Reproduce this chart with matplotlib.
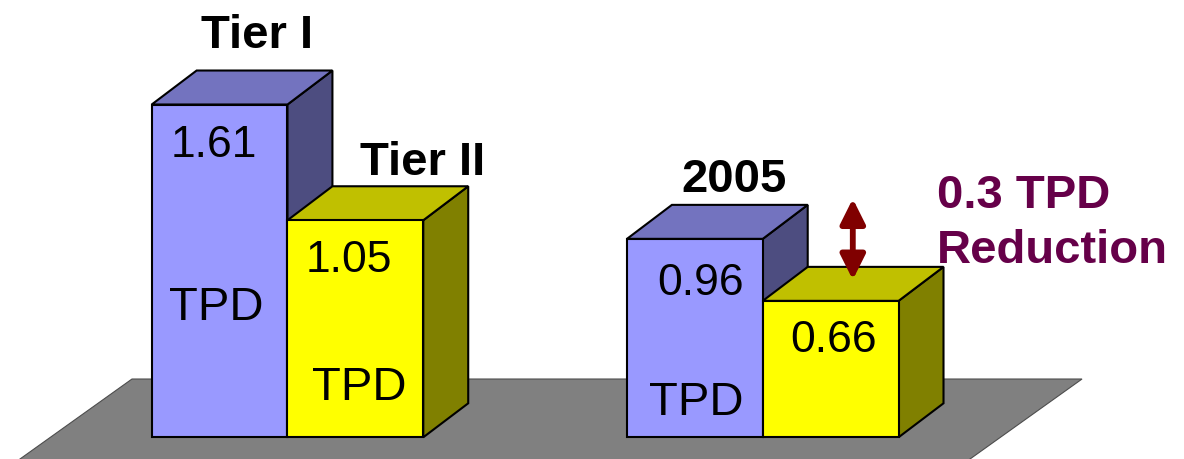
import numpy as np
import matplotlib.pyplot as plt
from matplotlib.patches import Polygon, FancyArrowPatch

# values in TPD: Tier I, Tier II, 2005 (blue), 2005 reduced (yellow)
values = [1.61, 1.05, 0.96, 0.66]
value_labels = ['1.61', '1.05', '0.96', '0.66']
bar_titles = ['Tier I', 'Tier II', '2005', '']
unit_labels = ['TPD', 'TPD', 'TPD', '']
note_lines = ['0.3 TPD', 'Reduction']

plt.rcParams['font.family'] = ['Liberation Sans', 'DejaVu Sans']

front = ['#9999FF', '#FFFF00', '#9999FF', '#FFFF00']
top = ['#7373BF', '#C0C000', '#7373BF', '#C0C000']
side = ['#4D4D80', '#808000', '#4D4D80', '#808000']

# 1 x-unit = one bar width, 1 y-unit = 1 TPD
x0 = 1.117
lefts = [x0, x0 + 1, x0 + 3.5, x0 + 4.5]
dx, dy = 0.331, 0.1645

fig = plt.figure(figsize=(11.84, 4.6), dpi=100)
ax = fig.add_axes([0, 0, 1, 1])
ax.set_xlim(0, 8.719)
ax.set_ylim(-0.105, 2.1205)
ax.axis('off')

# floor
ft, fb = 0.282, -0.6
slope = 2.131
floor = Polygon([(0.972, ft), (7.968, ft), (7.968 - slope * (ft - fb), fb),
                 (0.972 - slope * (ft - fb), fb)],
                facecolor='#808080', edgecolor='#4d4d4d', lw=0.8, zorder=1)
ax.add_patch(floor)

lw = 1.5
for i, (x, h) in enumerate(zip(lefts, values)):
    sd = Polygon([(x + 1, 0), (x + 1 + dx, dy), (x + 1 + dx, h + dy), (x + 1, h)],
                 facecolor=side[i], edgecolor='black', lw=lw, zorder=2 + i)
    tp = Polygon([(x, h), (x + 1, h), (x + 1 + dx, h + dy), (x + dx, h + dy)],
                 facecolor=top[i], edgecolor='black', lw=lw, zorder=2 + i)
    fr = Polygon([(x, 0), (x + 1, 0), (x + 1, h), (x, h)],
                 facecolor=front[i], edgecolor='black', lw=lw, zorder=2 + i)
    for p in (sd, tp, fr):
        ax.add_patch(p)

# labels inside the bars
num_dx = [0.46, 0.45, 0.54, 0.52]
num_dy = [-0.249, -0.244, -0.267, -0.241]
for i in range(4):
    ax.text(lefts[i] + num_dx[i], values[i] + num_dy[i], value_labels[i],
            ha='center', va='baseline', fontsize=32, zorder=10)

unit_dx = [0.472, 0.528, 0.512, 0.5]
unit_y = [0.572, 0.185, 0.113, 0.0]
for i in range(4):
    if unit_labels[i]:
        ax.text(lefts[i] + unit_dx[i], unit_y[i], unit_labels[i],
                ha='center', va='baseline', fontsize=34, zorder=10)

# titles above bars
title_dx = [0.775, 0.994, 0.785, 0.5]
title_dy = [0.277, 0.224, 0.233, 0.2]
for i in range(4):
    if bar_titles[i]:
        ax.text(lefts[i] + title_dx[i], values[i] + title_dy[i], bar_titles[i],
                ha='center', va='baseline', fontsize=34, fontweight='bold', zorder=10)

# reduction arrow between the 2005 bars
ax_x = lefts[3] + 0.663
arr = FancyArrowPatch((ax_x, values[3] + dy * 0.62), (ax_x, values[2] + dy * 1.18),
                      arrowstyle='<|-|>,head_length=15,head_width=7.5',
                      mutation_scale=1, shrinkA=0, shrinkB=0,
                      color='#800000', lw=4.2, zorder=11)
ax.add_patch(arr)

ax.text(6.898, 1.113, note_lines[0], ha='left', va='baseline', fontsize=34,
        fontweight='bold', color='#660049', zorder=10)
ax.text(6.898, 0.847, note_lines[1], ha='left', va='baseline', fontsize=34,
        fontweight='bold', color='#660049', zorder=10)

fig.savefig('out.png', dpi=100)
